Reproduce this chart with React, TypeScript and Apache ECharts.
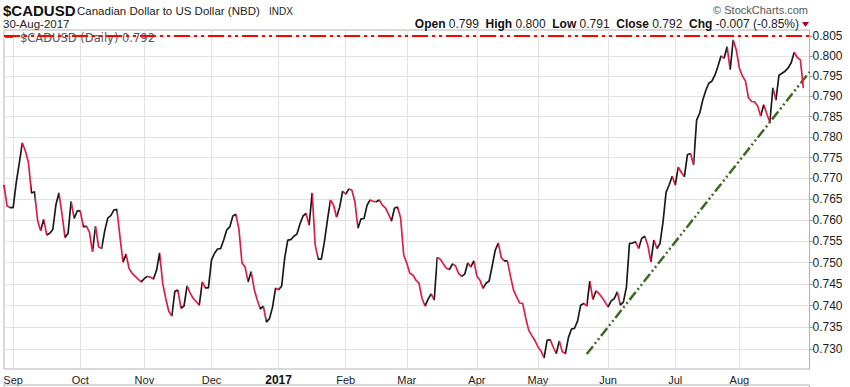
import React, { useEffect, useRef } from 'react';
import * as echarts from 'echarts';

// ---- data ----
const START_DATE = '2016-08-29';
const AXIS_END_DATE = '2017-09-01'; // axis runs two sessions past the last close
const CLOSE = [
  0.7684, 0.7634, 0.7630, 0.7630, 0.7689, 0.7736, 0.7786, 0.7766, 0.7739, 0.7665,
  0.7668, 0.7600, 0.7575, 0.7602, 0.7565, 0.7569, 0.7578, 0.7636, 0.7665, 0.7615,
  0.7559, 0.7569, 0.7645, 0.7604, 0.7622, 0.7622, 0.7584, 0.7586, 0.7572, 0.7525,
  0.7586, 0.7537, 0.7533, 0.7574, 0.7605, 0.7611, 0.7624, 0.7626, 0.7561, 0.7501,
  0.7520, 0.7486, 0.7475, 0.7468, 0.7461, 0.7455, 0.7463, 0.7468, 0.7466, 0.7462,
  0.7482, 0.7523, 0.7452, 0.7417, 0.7387, 0.7376, 0.7433, 0.7436, 0.7394, 0.7399,
  0.7446, 0.7429, 0.7417, 0.7409, 0.7401, 0.7455, 0.7441, 0.7441, 0.7506, 0.7522,
  0.7532, 0.7533, 0.7553, 0.7577, 0.7584, 0.7610, 0.7614, 0.7579, 0.7499, 0.7490,
  0.7455, 0.7479, 0.7438, 0.7413, 0.7392, 0.7399, 0.7362, 0.7370, 0.7396, 0.7440,
  0.7437, 0.7445, 0.7511, 0.7553, 0.7554, 0.7562, 0.7567, 0.7591, 0.7610, 0.7616,
  0.7588, 0.7665, 0.7541, 0.7508, 0.7508, 0.7548, 0.7600, 0.7648, 0.7636, 0.7607,
  0.7631, 0.7669, 0.7662, 0.7674, 0.7672, 0.7644, 0.7581, 0.7603, 0.7604, 0.7636,
  0.7648, 0.7645, 0.7644, 0.7648, 0.7636, 0.7629, 0.7615, 0.7598, 0.7629, 0.7631,
  0.7605, 0.7518, 0.7499, 0.7475, 0.7471, 0.7459, 0.7452, 0.7417, 0.7399, 0.7415,
  0.7427, 0.7413, 0.7512, 0.7508, 0.7497, 0.7487, 0.7484, 0.7497, 0.7492, 0.7475,
  0.7468, 0.7473, 0.7499, 0.7490, 0.7504, 0.7468, 0.7459, 0.7440, 0.7452, 0.7457,
  0.7492, 0.7529, 0.7546, 0.7511, 0.7504, 0.7504, 0.7468, 0.7436, 0.7420, 0.7406,
  0.7405, 0.7371, 0.7343, 0.7331, 0.7320, 0.7305, 0.7296, 0.7280, 0.7320, 0.7322,
  0.7305, 0.7290, 0.7319, 0.7294, 0.7290, 0.7327, 0.7346, 0.7348, 0.7365, 0.7401,
  0.7405, 0.7399, 0.7457, 0.7414, 0.7434, 0.7428, 0.7419, 0.7408, 0.7397, 0.7411,
  0.7416, 0.7432, 0.7401, 0.7408, 0.7443, 0.7545, 0.7546, 0.7549, 0.7533, 0.7557,
  0.7562, 0.7541, 0.7502, 0.7553, 0.7533, 0.7545, 0.7596, 0.7667, 0.7684, 0.7705,
  0.7684, 0.7727, 0.7714, 0.7704, 0.7757, 0.7760, 0.7732, 0.7841, 0.7858, 0.7890,
  0.7914, 0.7932, 0.7937, 0.7952, 0.7974, 0.8000, 0.7994, 0.8023, 0.7966, 0.8040,
  0.8015, 0.7970, 0.7950, 0.7938, 0.7896, 0.7887, 0.7886, 0.7876, 0.7851, 0.7879,
  0.7857, 0.7836, 0.7921, 0.7890, 0.7952, 0.7957, 0.7962, 0.7970, 0.7983, 0.8009,
  0.7996, 0.7990, 0.7920,
];
const Y_TICKS = [0.730, 0.735, 0.740, 0.745, 0.750, 0.755, 0.760, 0.765, 0.770, 0.775, 0.780, 0.785, 0.790, 0.795, 0.800, 0.805];
const Y_MIN = 0.7255;
const Y_MAX = 0.8065;
const RESISTANCE = 0.805;
const TREND_DATES = ['2017-05-23', '2017-09-01'];
const TREND_VALUES = [0.7289, 0.7960];
const MONTHS = ['Jan', 'Feb', 'Mar', 'Apr', 'May', 'Jun', 'Jul', 'Aug', 'Sep', 'Oct', 'Nov', 'Dec'];

const RED = '#dc1e46';
const BLACK = '#1a1a1a';
const FONT = '"Liberation Sans", Arial, sans-serif';
const WIDE_FONT = '"DejaVu Sans", Verdana, sans-serif';

function weekdays(start: string, end: string): string[] {
  const [ys, ms, ds] = start.split('-').map(Number);
  const [ye, me, de] = end.split('-').map(Number);
  const out: string[] = [];
  const d = new Date(Date.UTC(ys, ms - 1, ds));
  const e = new Date(Date.UTC(ye, me - 1, de));
  while (d.getTime() <= e.getTime()) {
    const wd = d.getUTCDay();
    if (wd !== 0 && wd !== 6) out.push(d.toISOString().slice(0, 10));
    d.setUTCDate(d.getUTCDate() + 1);
  }
  return out;
}

export default function App() {
  const ref = useRef<HTMLDivElement>(null);
  useEffect(() => {
    if (!ref.current) return;
    const chart = echarts.init(ref.current, null, { renderer: 'svg' });
    const dates = weekdays(START_DATE, AXIS_END_DATE);
    const isMonthStart = (i: number) =>
      i > 0 && i < CLOSE.length && dates[i].slice(5, 7) !== dates[i - 1].slice(5, 7);
    const lnClose = CLOSE.map((v) => Math.log(v));
    const pieces: any[] = [];
    for (let i = 0; i < CLOSE.length - 1; i++) {
      pieces.push({ gte: i, lt: i + 1, color: CLOSE[i + 1] < CLOSE[i] ? RED : BLACK });
    }
    pieces.push({ gte: CLOSE.length - 1, lte: dates.length, color: pieces[pieces.length - 1].color });
    const tickLn = Y_TICKS.map((v) => Math.log(v));

    const option: any = {
      animation: false,
      backgroundColor: '#ffffff',
      textStyle: { fontFamily: FONT },
      grid: { left: 4, right: 40.5, top: 30, bottom: 18, show: true, borderColor: '#b4b4b4', borderWidth: 1, backgroundColor: 'transparent' },
      xAxis: {
        type: 'category',
        data: dates,
        boundaryGap: false,
        axisLine: { show: false },
        axisTick: { show: false },
        axisLabel: {
          interval: (i: number) => isMonthStart(i),
          formatter: (v: string) => {
            const m = Number(v.slice(5, 7));
            return m === 1 ? '{b|' + v.slice(0, 4) + '}' : MONTHS[m - 1];
          },
          fontSize: 11,
          color: '#222',
          margin: 5,
          fontFamily: FONT,
          rich: { b: { fontWeight: 'bold', fontSize: 12, color: '#111', fontFamily: FONT } },
        },
        splitLine: { show: true, interval: (i: number) => isMonthStart(i), lineStyle: { color: '#e2e2e2', width: 1 } },
      },
      yAxis: {
        type: 'value',
        position: 'right',
        min: Math.log(Y_MIN),
        max: Math.log(Y_MAX),
        axisLine: { show: true, lineStyle: { color: '#b4b4b4' } },
        axisTick: { show: true, customValues: tickLn, length: 3, lineStyle: { color: '#999' } },
        axisLabel: {
          customValues: tickLn,
          formatter: (v: number) => Math.exp(v).toFixed(3),
          fontSize: 12,
          color: '#222',
          margin: 3,
          fontFamily: FONT,
        },
        splitLine: { show: true, lineStyle: { color: '#e2e2e2', width: 1 } },
      },
      visualMap: {
        show: false,
        type: 'piecewise',
        dimension: 0,
        seriesIndex: 0,
        pieces,
        outOfRange: { color: BLACK },
      },
      series: [
        {
          type: 'line',
          data: lnClose,
          symbol: 'none',
          lineStyle: { width: 1.7 },
          z: 4,
        },
        {
          type: 'line',
          data: TREND_DATES.map((d, i) => [d, Math.log(TREND_VALUES[i])]),
          symbol: 'none',
          lineStyle: { color: '#3d6a22', width: 2.5, type: [10, 3, 2, 3, 2, 3] },
          z: 3,
          markLine: {
            silent: true,
            precision: 10,
            symbol: ['none', 'none'],
            label: { show: false },
            lineStyle: { color: '#ff0000', width: 2, type: [16, 4, 3, 4, 3, 4] },
            data: [{ yAxis: Math.log(RESISTANCE) }],
          },
        },
      ],
      graphic: [
        { type: 'text', x: 3, y: 10, z: 1, style: { text: '$CADUSD', fontSize: 15, fontWeight: 'bold', fontFamily: FONT, fill: '#111', textVerticalAlign: 'middle' } },
        { type: 'text', x: 77, y: 10.5, z: 1, style: { text: 'Canadian Dollar to US Dollar (NBD)', fontSize: 11.5, fontFamily: FONT, fill: '#222', textVerticalAlign: 'middle' } },
        { type: 'text', x: 269, y: 11, z: 1, style: { text: 'INDX', fontSize: 10, fontFamily: FONT, fill: '#222', textVerticalAlign: 'middle' } },
        { type: 'text', x: 3, y: 24, z: 1, style: { text: '30-Aug-2017', fontSize: 11.5, fontFamily: FONT, fill: '#222', textVerticalAlign: 'middle' } },
        { type: 'text', x: 808, y: 9.5, z: 1, style: { text: '© StockCharts.com', fontSize: 11, fontFamily: FONT, fill: '#555', textAlign: 'right', textVerticalAlign: 'middle' } },
        {
          type: 'text', x: 799, y: 24, z: 1,
          style: {
            text: '{b|Open} 0.799  {b|High} 0.800  {b|Low} 0.791  {b|Close} 0.792  {b|Chg} -0.007 (-0.85%)',
            fontSize: 12, fontFamily: FONT, fill: '#222', textAlign: 'right', textVerticalAlign: 'middle',
            rich: { b: { fontSize: 12, fontWeight: 'bold', fontFamily: FONT, fill: '#111' } },
          },
        },
        { type: 'polygon', z: 1, shape: { points: [[802, 22], [809, 22], [805.5, 27]] }, style: { fill: '#a0002a' } },
        { type: 'line', z: 1, shape: { x1: 5, y1: 37, x2: 13, y2: 37 }, style: { stroke: '#333', lineWidth: 1.5 } },
        { type: 'text', x: 20, y: 37.5, z: 1, style: { text: '$CADUSD (Daily) 0.792', fontSize: 11.5, fontFamily: WIDE_FONT, fill: '#555', textVerticalAlign: 'middle' } },
        { type: 'rect', z: 1, shape: { x: 4, y: 385, width: 805.5, height: 20 }, style: { fill: 'none', stroke: '#b4b4b4', lineWidth: 1 } },
      ],
    };
    chart.setOption(option);
    return () => chart.dispose();
  }, []);
  return <div ref={ref} style={{ position: 'fixed', left: 0, top: 0, width: 850, height: 387, background: '#fff' }} />;
}
